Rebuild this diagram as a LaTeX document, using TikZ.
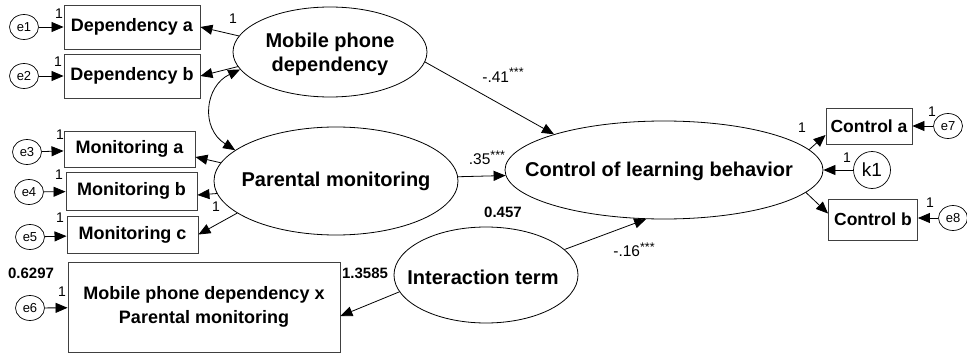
\documentclass[tikz,border=0pt]{standalone}
\usepackage{fontspec}
\setmainfont{Liberation Sans}
\usetikzlibrary{arrows.meta,shapes.geometric,calc}
\newcommand{\stars}{\raisebox{0.35em}{\fontsize{12.5}{12}\selectfont ***}}
\begin{document}
\begin{tikzpicture}[x=1pt,y=-1pt,
  lat/.style={draw,ellipse,inner sep=0pt,line width=0.8pt},
  lattext/.style={font=\fontsize{20}{24}\selectfont\bfseries,align=center,inner sep=0pt},
  obs/.style={draw=black!75,rectangle,inner sep=0pt,line width=0.9pt,font=\fontsize{18}{24}\selectfont\bfseries,align=center},
  err/.style={draw,ellipse,inner sep=0pt,minimum width=29pt,minimum height=25pt,line width=0.7pt,font=\fontsize{13}{14}\selectfont},
  arr/.style={line width=0.8pt,-{Triangle[length=12pt,width=10pt]}},
  one/.style={font=\fontsize{14}{14}\selectfont,inner sep=0pt},
  coef/.style={font=\fontsize{15.5}{16}\selectfont,inner sep=0pt},
  bnum/.style={font=\fontsize{15}{16}\selectfont\bfseries,inner sep=0pt}]
\useasboundingbox (0,0) rectangle (967,353);
% latent variables
\node[lat,minimum width=194pt,minimum height=90pt] (mob) at (330,52) {};
\node[lattext] (mobt) at (330,54) {Mobile phone\\dependency};
\node[lat,minimum width=244pt,minimum height=108pt] (par) at (336,181) {};
\node[lattext] (part) at (336,181) {Parental monitoring};
\node[lat,minimum width=318pt,minimum height=98pt] (ctrl) at (664,170) {};
\node[lattext] (ctrlt) at (659,171) {Control of learning behavior};
\node[lat,minimum width=184pt,minimum height=96pt] (int) at (486,275) {};
\node[lattext] (intt) at (483,277) {Interaction term};
% observed
\node[obs,minimum width=136pt,minimum height=44pt] (depA) at (132,27) {Dependency a};
\node[obs,minimum width=136pt,minimum height=44pt] (depB) at (132,76) {Dependency b};
\node[obs,minimum width=131pt,minimum height=36pt] (monA) at (129.5,149) {Monitoring a};
\node[obs,minimum width=131pt,minimum height=38pt] (monB) at (131.5,191) {Monitoring b};
\node[obs,minimum width=131pt,minimum height=37pt] (monC) at (132.5,234.5) {Monitoring c};
\node[obs,minimum width=272pt,minimum height=90pt] (prod) at (204,307) {Mobile phone dependency x\\Parental monitoring};
\node[obs,minimum width=86pt,minimum height=36pt,font=\fontsize{17.5}{20}\selectfont\bfseries] (ctrlA) at (869,126) {Control a};
\node[obs,minimum width=89pt,minimum height=41pt,font=\fontsize{17.5}{20}\selectfont\bfseries] (ctrlB) at (873,219.5) {Control b};
% errors
\node[err] (e1) at (24,27) {e1};
\node[err] (e2) at (24,76) {e2};
\node[err] (e3) at (27,152) {e3};
\node[err] (e4) at (29,192) {e4};
\node[err] (e5) at (30,237) {e5};
\node[err] (e6) at (30,308) {e6};
\node[err] (e7) at (948,126) {e7};
\node[err] (e8) at (953,218) {e8};
\node[err,minimum width=37pt,minimum height=37pt,font=\fontsize{19}{20}\selectfont] (k1) at (872,170) {k1};
% error arrows
\draw[arr] (e1) -- (depA);
\draw[arr] (e2) -- (depB);
\draw[arr] (e3) -- (monA);
\draw[arr] (e4) -- (monB);
\draw[arr] (e5) -- (monC);
\draw[arr] (e6) -- (prod);
\draw[arr] (e7) -- (ctrlA);
\draw[arr] (e8) -- ($(ctrlB.east)+(0,-1.5)$);
\draw[arr] (k1) -- (ctrl);
% loadings
\draw[arr] (mob.170.7) -- (depA.east);
\draw[arr] (mob.189.5) -- (depB.east);
\draw[arr] (par.171.3) -- ($(monA.east)+(0,8)$);
\draw[arr] (par.186.5) -- ($(monB.east)+(0,4)$);
\draw[arr] (par.198) -- (monC.east);
\draw[arr] (ctrl.8.7) -- ($(ctrlA.west)+(0,9)$);
\draw[arr] (ctrl.-9.3) -- ($(ctrlB.west)+(0,-6)$);
\draw[arr] (int.191) -- ($(prod.east)+(0,9)$);
% structural paths
\draw[arr] (mob.-6) -- (ctrl.162.5);
\draw[arr] (par.2.3) -- (ctrl.182);
\draw[arr] (int.18.2) -- (ctrl.250.5);
% covariance
\draw[line width=0.8pt,{Triangle[length=12pt,width=10pt]}-{Triangle[length=12pt,width=10pt]}] (mob.191) .. controls (205,86) and (200,128) .. (par.163);
% "1" labels
\node[one] (l1) at (59,14) {1};
\node[one] (l2) at (58,62) {1};
\node[one] (l3) at (233,19) {1};
\node[one] (l4) at (60,135) {1};
\node[one] (l5) at (59,175) {1};
\node[one] (l6) at (60,218) {1};
\node[one] (l7) at (216,207) {1};
\node[one] (l8) at (62,292) {1};
\node[one] (l9) at (802,128) {1};
\node[one] (l10) at (932,112) {1};
\node[one] (l11) at (847,158) {1};
\node[one] (l12) at (930,203) {1};
% coefficients
\node[coef] (c1) at (503,75) {-.41\stars};
\node[coef] (c2) at (487,158) {.35\stars};
\node[coef] (c3) at (634,250) {-.16\stars};
\node[bnum] (n1) at (503,212) {0.457};
\node[bnum] (n2) at (31,273) {0.6297};
\node[bnum] (n3) at (365,273) {1.3585};
\end{tikzpicture}
\end{document}
